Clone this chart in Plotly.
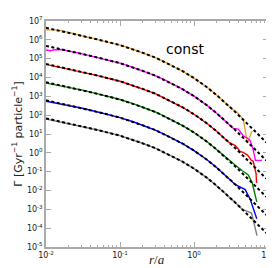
import plotly.graph_objects as go

# ---- model curves (dashed black), values read as log10(Gamma) ----
r_model = [0.01, 0.03, 0.05, 0.1, 0.15, 0.2, 0.3, 0.4, 0.5, 0.7, 1.0, 1.5, 2, 2.5, 3, 3.5, 4, 4.5, 5, 6, 7, 8, 9.5]
log_model_orange = [6.64, 6.23, 6.02, 5.72, 5.50, 5.32, 5.06, 4.83, 4.65, 4.34, 3.97, 3.48, 3.08, 2.75, 2.46, 2.22, 2.00, 1.81, 1.63, 1.32, 1.06, 0.84, 0.55]
log_model_magenta = [5.68, 5.27, 5.06, 4.76, 4.54, 4.36, 4.10, 3.87, 3.69, 3.38, 3.01, 2.52, 2.12, 1.79, 1.50, 1.26, 1.04, 0.85, 0.67, 0.36, 0.10, -0.12, -0.41]
log_model_red = [4.72, 4.31, 4.10, 3.80, 3.58, 3.40, 3.14, 2.91, 2.73, 2.42, 2.05, 1.56, 1.16, 0.83, 0.54, 0.30, 0.08, -0.11, -0.29, -0.60, -0.86, -1.08, -1.37]
log_model_green = [3.75, 3.34, 3.13, 2.83, 2.61, 2.43, 2.17, 1.94, 1.76, 1.45, 1.08, 0.59, 0.19, -0.14, -0.43, -0.67, -0.89, -1.08, -1.26, -1.57, -1.83, -2.05, -2.34]
log_model_blue = [2.79, 2.38, 2.17, 1.87, 1.65, 1.47, 1.21, 0.98, 0.80, 0.49, 0.12, -0.37, -0.77, -1.10, -1.39, -1.63, -1.85, -2.04, -2.22, -2.53, -2.79, -3.01, -3.30]
log_model_gray = [1.83, 1.42, 1.21, 0.91, 0.69, 0.51, 0.25, 0.02, -0.16, -0.47, -0.84, -1.33, -1.73, -2.06, -2.35, -2.59, -2.81, -3.00, -3.18, -3.49, -3.75, -3.97, -4.26]

# ---- simulation data (coloured), log10(Gamma) ----
r_orange = [0.01, 0.012, 0.014, 0.018, 0.03, 0.05, 0.1, 0.15, 0.2, 0.3, 0.4, 0.5, 0.7, 1.0, 1.5, 2, 2.5, 3, 3.4, 3.7, 3.9, 4.64, 5.25, 6.1]
log_orange = [6.53, 6.54, 6.53, 6.44, 6.23, 6.01, 5.72, 5.50, 5.32, 5.06, 4.83, 4.65, 4.34, 3.97, 3.48, 3.08, 2.75, 2.46, 2.27, 2.20, 2.10, 1.78, 0.53, 1.16]

r_magenta = [0.01, 0.0115, 0.013, 0.016, 0.03, 0.05, 0.1, 0.15, 0.2, 0.3, 0.4, 0.5, 0.7, 1.0, 1.5, 2, 2.5, 3, 3.4, 3.98, 4.64, 5.25, 5.75, 6.26, 6.76, 8.3]
log_magenta = [5.46, 5.42, 5.47, 5.49, 5.27, 5.06, 4.76, 4.54, 4.36, 4.10, 3.87, 3.69, 3.38, 3.01, 2.52, 2.12, 1.79, 1.50, 1.30, 1.26, 0.90, 0.79, 0.64, 0.22, -0.40, -0.40]

r_red = [0.01, 0.03, 0.05, 0.1, 0.15, 0.2, 0.3, 0.4, 0.5, 0.7, 1.0, 1.5, 2, 2.5, 3, 3.63, 4.2, 4.6, 5.3, 5.9, 6.3, 6.9, 7.0]
log_red = [4.70, 4.31, 4.10, 3.80, 3.58, 3.40, 3.14, 2.91, 2.73, 2.42, 2.05, 1.56, 1.16, 0.83, 0.54, 0.38, 0.08, 0.02, -0.12, -0.38, -0.45, -1.10, -1.60]

r_green = [0.01, 0.03, 0.05, 0.1, 0.15, 0.2, 0.3, 0.4, 0.5, 0.7, 1.0, 1.5, 2, 2.5, 3, 3.63, 4.5, 5.41, 6.12, 7.05]
log_green = [3.70, 3.34, 3.13, 2.83, 2.61, 2.43, 2.17, 1.94, 1.76, 1.45, 1.08, 0.59, 0.19, -0.14, -0.43, -0.66, -0.95, -1.17, -1.59, -2.60]

r_blue = [0.01, 0.03, 0.05, 0.1, 0.15, 0.2, 0.3, 0.4, 0.5, 0.7, 1.0, 1.5, 2, 2.5, 3, 3.63, 4.92, 5.75, 7.05]
log_blue = [2.74, 2.38, 2.17, 1.87, 1.65, 1.47, 1.21, 0.98, 0.80, 0.49, 0.12, -0.37, -0.77, -1.10, -1.39, -1.69, -1.95, -2.47, -3.50]

r_gray = [0.01, 0.03, 0.05, 0.1, 0.15, 0.2, 0.3, 0.4, 0.5, 0.7, 1.0, 1.5, 2, 2.5, 3, 3.5, 4, 4.5, 6.0, 7.1]
log_gray = [1.80, 1.42, 1.21, 0.91, 0.69, 0.51, 0.25, 0.02, -0.16, -0.47, -0.84, -1.33, -1.73, -2.06, -2.35, -2.59, -2.81, -3.00, -3.20, -4.40]

x_tick_vals = [0.01, 0.1, 1, 10]
x_tick_text = ["10<sup>-2</sup>", "10<sup>-1</sup>", "10<sup>0</sup>", "10<sup>1</sup>"]
y_tick_exps = [-5, -4, -3, -2, -1, 0, 1, 2, 3, 4, 5, 6, 7]

data_series = [
    (r_orange, log_orange, "#eaa236"),
    (r_magenta, log_magenta, "#ff00ff"),
    (r_red, log_red, "#ff0000"),
    (r_green, log_green, "#008000"),
    (r_blue, log_blue, "#0000ff"),
    (r_gray, log_gray, "#808080"),
]
model_series = [log_model_orange, log_model_magenta, log_model_red,
                log_model_green, log_model_blue, log_model_gray]

fig = go.Figure()
for rr, lv, col in data_series:
    fig.add_trace(go.Scatter(x=rr, y=[10 ** v for v in lv], mode="lines",
                             line=dict(color=col, width=1.4), showlegend=False))
for lm in model_series:
    fig.add_trace(go.Scatter(x=r_model, y=[10 ** v for v in lm], mode="lines",
                             line=dict(color="black", width=2, dash="3px,2.5px"),
                             showlegend=False))

axis_common = dict(
    type="log", showgrid=False, zeroline=False, showline=True,
    linecolor="#aaaaaa", linewidth=1.5, mirror="ticks",
    ticks="inside", tickcolor="#aaaaaa", tickwidth=1, ticklen=5,
    tickfont=dict(family="DejaVu Sans", size=8, color="#222222"),
)

minor_x = [m * 10 ** e for e in (-2, -1, 0) for m in range(2, 10)]

fig.update_xaxes(range=[-2, 1], **axis_common,
                 tickmode="array", tickvals=x_tick_vals, ticktext=x_tick_text,
                 minor=dict(ticks="inside", ticklen=2.5, tickcolor="#aaaaaa",
                            tickmode="array", tickvals=minor_x, showgrid=False))
fig.update_yaxes(range=[-5, 7], **axis_common,
                 tickmode="array", tickvals=[10 ** e for e in y_tick_exps],
                 ticktext=["10<sup>%d</sup>" % e for e in y_tick_exps],
                 title=dict(text="Γ [Gyr<sup>−1</sup> particle<sup>−1</sup>]", standoff=2,
                            font=dict(family="DejaVu Sans", size=11, color="#222222")))

fig.add_annotation(x=0.5, y=-0.055, xref="paper", yref="paper", text="<i>r</i>/<i>a</i>",
                   showarrow=False, yanchor="middle",
                   font=dict(family="Liberation Serif", size=13, color="#222222"))
fig.add_annotation(x=0.72, y=0.92, xref="paper", yref="paper", text="const",
                   showarrow=False, font=dict(family="DejaVu Sans", size=14, color="black"))

fig.update_layout(width=274, height=268,
                  margin=dict(l=38, r=11, t=7, b=29),
                  plot_bgcolor="white", paper_bgcolor="white")

fig.write_html("out.html")
